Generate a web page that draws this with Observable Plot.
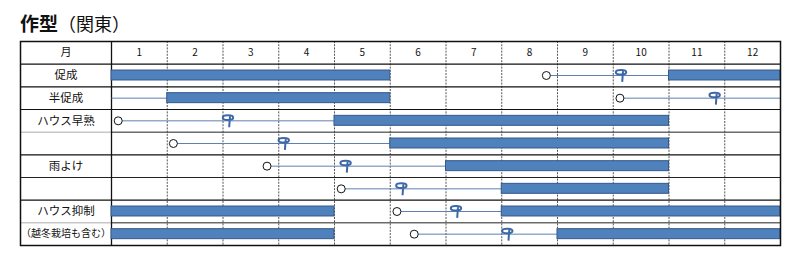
<!DOCTYPE html>
<html>
<head>
<meta charset="utf-8">
<script src="https://cdn.jsdelivr.net/npm/d3@7"></script>
<script src="https://cdn.jsdelivr.net/npm/@observablehq/plot@0.6"></script>
<style>
  html, body { margin: 0; padding: 0; background: #fff; }
  #title { height: 36px; box-sizing: border-box; padding: 13px 0 0 20px; line-height: 19px;
           font-family: "Noto Sans CJK JP", sans-serif; color: #111; white-space: nowrap; }
  #title .main { font-size: 19px; font-weight: 700; }
  #title .sub { font-size: 18px; font-weight: 400; }
  #chart svg { display: block; }
</style>
</head>
<body>
<div id="title"><span class="main">作型</span><span class="sub">（関東）</span></div>
<div id="chart"></div>
<script>
// ---- data ----
const headerLabel = "月";
const months = ["1","2","3","4","5","6","7","8","9","10","11","12"];
const rowLabels = ["促成","半促成","ハウス早熟","","雨よけ","","ハウス抑制","（越冬栽培も含む）"];

// bars (growing/harvest periods), month units: 0 = start of Jan, 12 = end of Dec
const barRows   = [0, 0, 1, 2, 3, 4, 5, 6, 6, 7, 7];
const barStarts = [0, 10, 1, 4, 5, 6, 7, 0, 7, 0, 8];
const barEnds   = [5, 12, 5, 10, 10, 10, 10, 4, 12, 4, 12];

// nursery lines (sowing -> planting -> harvest start)
const lineRows   = [0, 1, 1, 2, 3, 4, 5, 6, 7];
const lineStarts = [7.8, 9.12, 0, 0.12, 1.11, 2.79, 4.12, 5.12, 5.43];
const lineEnds   = [10, 12, 1, 4, 5, 6, 7, 7, 8];

// sowing (○) and planting marks, one per row
const sowMonths   = [7.8, 9.12, 0.12, 1.11, 2.79, 4.12, 5.12, 5.43];
const plantMonths = [9.15, 10.83, 2.1, 3.1, 4.21, 5.21, 6.19, 7.11];

// ---- derived tables ----
const nRows = rowLabels.length + 1;           // header + rows
const LABEL_W = 91 / 55.75;                   // label column width in month units
const bars = barRows.map((r, i) => ({row: r, x1: barStarts[i], x2: barEnds[i]}));
const lines = lineRows.map((r, i) => ({row: r, x1: lineStarts[i], x2: lineEnds[i]}));
const sows = sowMonths.map((m, i) => ({row: i, x: m}));
const plants = plantMonths.map((m, i) => ({row: i, x: m}));
const yc = d => d.row + 1.5;

// custom planting symbol (loop with a stem)
const plantSymbol = {
  draw(ctx, size) {
    const s = Math.sqrt(size / Math.PI) / 5;
    const cx = -0.6 * s, cy = -3.2 * s, rx = 5.2 * s, ry = 2.3 * s, k = 0.5523;
    ctx.moveTo(cx + rx, cy);
    ctx.bezierCurveTo(cx + rx, cy + ry * k, cx + rx * k, cy + ry, cx, cy + ry);
    ctx.bezierCurveTo(cx - rx * k, cy + ry, cx - rx, cy + ry * k, cx - rx, cy);
    ctx.bezierCurveTo(cx - rx, cy - ry * k, cx - rx * k, cy - ry, cx, cy - ry);
    ctx.bezierCurveTo(cx + rx * k, cy - ry, cx + rx, cy - ry * k, cx + rx, cy);
    ctx.moveTo(1.5 * s, -5.8 * s);
    ctx.lineTo(0.6 * s, 6.4 * s);
  }
};

const chart = Plot.plot({
  width: 804,
  height: 232,
  marginLeft: 20,
  marginRight: 24,
  marginTop: 5,
  marginBottom: 23,
  x: {domain: [-LABEL_W, 12], axis: null},
  y: {domain: [0, nRows], reverse: true, axis: null},
  style: {fontFamily: "'Noto Sans CJK JP', sans-serif", fontSize: "10px", background: "#fff"},
  marks: [
    // month dividers
    Plot.ruleX(d3.range(1, 12), {y1: 0, y2: nRows, stroke: "#555", strokeWidth: 1, strokeDasharray: "2,1.2"}),
    // group separators
    Plot.ruleY([1, 2, 3, 5, 7], {x1: -LABEL_W, x2: 12, stroke: "#111", strokeWidth: 1.2}),
    // sub-row separators
    Plot.ruleY([4, 6, 8], {x1: 0, x2: 12, stroke: "#222", strokeWidth: 1}),
    Plot.ruleY([4, 8], {x1: -LABEL_W, x2: 0, stroke: "#aaa", strokeWidth: 1}),
    Plot.ruleY([6], {x1: -LABEL_W, x2: 0, stroke: "#222", strokeWidth: 1}),
    // label column border
    Plot.ruleX([0], {y1: 0, y2: nRows, stroke: "#111", strokeWidth: 1.3}),
    // nursery lines
    Plot.link(lines, {x1: "x1", x2: "x2", y1: yc, y2: yc, stroke: "#5f80b0", strokeWidth: 1}),
    // bars
    Plot.rect(bars, {x1: "x1", x2: "x2", y1: d => d.row + 1.28, y2: d => d.row + 1.72,
      fill: "#4f81bd", stroke: "#36598a", strokeWidth: 1}),
    // sowing circles
    Plot.dot(sows, {x: "x", y: yc, r: 4, fill: "#fff", stroke: "#111", strokeWidth: 1}),
    // planting marks
    Plot.dot(plants, {x: "x", y: yc, r: 5, symbol: plantSymbol, fill: "none", stroke: "#3d68a8", strokeWidth: 2}),
    // header
    Plot.text([headerLabel], {x: -LABEL_W / 2, y: 0.5, fill: "#111", fontSize: 11}),
    Plot.text(months, {x: (d, i) => i + 0.5, y: 0.5, fill: "#111", fontSize: 10}),
    // row labels
    Plot.text(rowLabels, {x: -LABEL_W / 2, y: (d, i) => i + 1.5, fill: "#111",
      fontSize: d => d.length > 6 ? 10 : 11.5}),
    Plot.frame({stroke: "#111", strokeWidth: 1.5})
  ]
});
document.getElementById("chart").appendChild(chart);
</script>
</body>
</html>
